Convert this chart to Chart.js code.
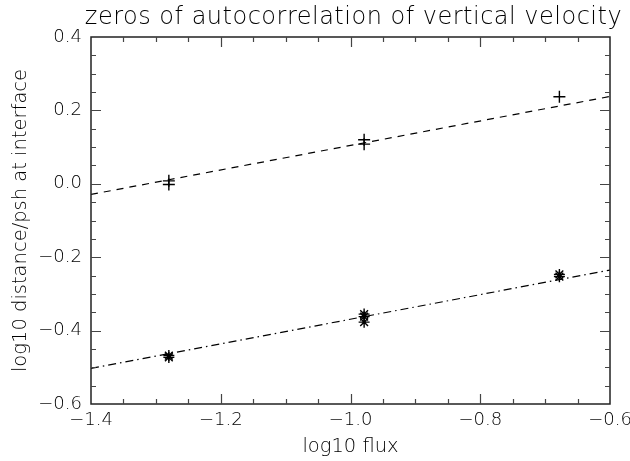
<!DOCTYPE html>
<html>
<head>
<meta charset="utf-8">
<script src="https://cdn.jsdelivr.net/npm/chart.js@4.4.1/dist/chart.umd.min.js"></script>
<style>
  html, body { margin: 0; padding: 0; background: #fff; }
  #wrap { width: 630px; height: 461px; }
</style>
</head>
<body>
<div id="wrap"><canvas id="cv" width="630" height="461"></canvas></div>
<script>
// data
var titleText = "zeros of autocorrelation of vertical velocity";
var xTitle = "log10 flux";
var yTitle = "log10 distance/psh at interface";

// "+" points
var plusX = [-1.28, -1.28, -0.979, -0.979, -0.678];
var plusY = [0.008, -0.002, 0.120, 0.108, 0.237];
// "*" points
var starX = [-1.28, -1.28, -0.979, -0.979, -0.979, -0.678, -0.678];
var starY = [-0.468, -0.473, -0.355, -0.362, -0.377, -0.247, -0.253];
// fitted lines (end points)
var fitX = [-1.4, -0.6];
var fitPlusY = [-0.029, 0.238];
var fitStarY = [-0.503, -0.235];

// axes
var xTicks = [-1.4, -1.2, -1.0, -0.8, -0.6];
var yTicks = [-0.6, -0.4, -0.2, 0.0, 0.2, 0.4];
var minorStep = 0.05;

var FONT = '"DejaVu Sans", "Liberation Sans", sans-serif';

function pts(xs, ys) {
  var arr = [];
  for (var i = 0; i < xs.length; i++) arr.push({x: xs[i], y: ys[i]});
  return arr;
}
function fmt(v) {
  if (Math.abs(v) < 1e-9) return "0.0";
  return v.toFixed(1).replace("-", "\u2212");
}
// use the tick values from the arrays above
function fixTicks(list) {
  return function (scale) {
    scale.ticks = list.map(function (v) { return {value: v}; });
  };
}

// box + inward ticks on all four sides, and the title
var framePlugin = {
  id: "frame",
  afterDraw: function (chart) {
    var ctx = chart.ctx, a = chart.chartArea;
    var sx = chart.scales.x, sy = chart.scales.y;
    ctx.save();
    ctx.strokeStyle = "#222";
    ctx.lineWidth = 1.5;
    ctx.strokeRect(a.left, a.top, a.right - a.left, a.bottom - a.top);

    ctx.strokeStyle = "#444";
    ctx.lineWidth = 1.2;
    ctx.beginPath();
    var n, v, p, len;
    // x ticks
    n = Math.round((xTicks[xTicks.length - 1] - xTicks[0]) / minorStep);
    for (var i = 1; i < n; i++) {
      v = xTicks[0] + i * minorStep;
      p = Math.round(sx.getPixelForValue(v)) + 0.5;
      len = (i % 4 === 0) ? 10 : 5;
      ctx.moveTo(p, a.bottom); ctx.lineTo(p, a.bottom - len);
      ctx.moveTo(p, a.top); ctx.lineTo(p, a.top + len);
    }
    // y ticks
    n = Math.round((yTicks[yTicks.length - 1] - yTicks[0]) / minorStep);
    for (var j = 1; j < n; j++) {
      v = yTicks[0] + j * minorStep;
      p = Math.round(sy.getPixelForValue(v)) + 0.5;
      len = (j % 4 === 0) ? 10 : 5;
      ctx.moveTo(a.left, p); ctx.lineTo(a.left + len, p);
      ctx.moveTo(a.right, p); ctx.lineTo(a.right - len, p);
    }
    ctx.stroke();

    // title
    ctx.fillStyle = "#000";
    ctx.font = "200 24px " + FONT;
    ctx.letterSpacing = "0.5px";
    ctx.textAlign = "center";
    ctx.textBaseline = "alphabetic";
    ctx.fillText(titleText, (a.left + a.right) / 2 + 3, 24);
    ctx.restore();
  }
};

var ctx = document.getElementById("cv").getContext("2d");
var chart = new Chart(ctx, {
  type: "scatter",
  data: {
    datasets: [
      {
        label: "plus",
        data: pts(plusX, plusY),
        pointStyle: "cross",
        pointRadius: 6,
        pointBorderWidth: 1.4,
        borderColor: "#000",
        backgroundColor: "#000"
      },
      {
        label: "star",
        data: pts(starX, starY),
        pointStyle: "star",
        pointRadius: 5.5,
        pointBorderWidth: 1.4,
        borderColor: "#000",
        backgroundColor: "#000"
      },
      {
        label: "fit plus",
        data: pts(fitX, fitPlusY),
        showLine: true,
        pointRadius: 0,
        borderColor: "#000",
        borderWidth: 1.2,
        borderDash: [7, 6]
      },
      {
        label: "fit star",
        data: pts(fitX, fitStarY),
        showLine: true,
        pointRadius: 0,
        borderColor: "#000",
        borderWidth: 1.2,
        borderDash: [8, 4, 1.5, 4]
      }
    ]
  },
  options: {
    responsive: false,
    animation: false,
    events: [],
    layout: { autoPadding: false, padding: { left: 0, right: 20, top: 37, bottom: 0 } },
    plugins: {
      legend: { display: false },
      tooltip: { enabled: false },
      title: { display: false }
    },
    scales: {
      x: {
        type: "linear",
        min: xTicks[0],
        max: xTicks[xTicks.length - 1],
        afterBuildTicks: fixTicks(xTicks),
        afterFit: function (s) {
          s.height = 57;
          s.paddingLeft = 0;
          s.paddingRight = 0;
        },
        grid: { display: false, drawTicks: false },
        border: { display: false },
        ticks: {
          autoSkip: false,
          padding: 7,
          maxRotation: 0,
          color: "#000",
          font: { family: FONT, size: 18, weight: 200, lineHeight: 1.0 },
          callback: function (v) { return fmt(v); }
        },
        title: {
          display: true,
          text: xTitle,
          color: "#000",
          font: { family: FONT, size: 19.5, weight: 200, lineHeight: 1.0 },
          padding: { top: 0, bottom: 4 }
        }
      },
      y: {
        type: "linear",
        min: yTicks[0],
        max: yTicks[yTicks.length - 1],
        afterBuildTicks: fixTicks(yTicks),
        afterFit: function (s) {
          s.width = 91;
          s.paddingTop = 0;
          s.paddingBottom = 0;
        },
        grid: { display: false, drawTicks: false },
        border: { display: false },
        ticks: {
          autoSkip: false,
          padding: 9,
          color: "#000",
          font: { family: FONT, size: 18, weight: 200, lineHeight: 1.0 },
          callback: function (v) { return fmt(v); }
        },
        title: {
          display: true,
          text: yTitle,
          color: "#000",
          font: { family: FONT, size: 19.5, weight: 200, lineHeight: 1.2 },
          padding: { top: 9, bottom: 6 }
        }
      }
    }
  },
  plugins: [framePlugin]
});
</script>
</body>
</html>
